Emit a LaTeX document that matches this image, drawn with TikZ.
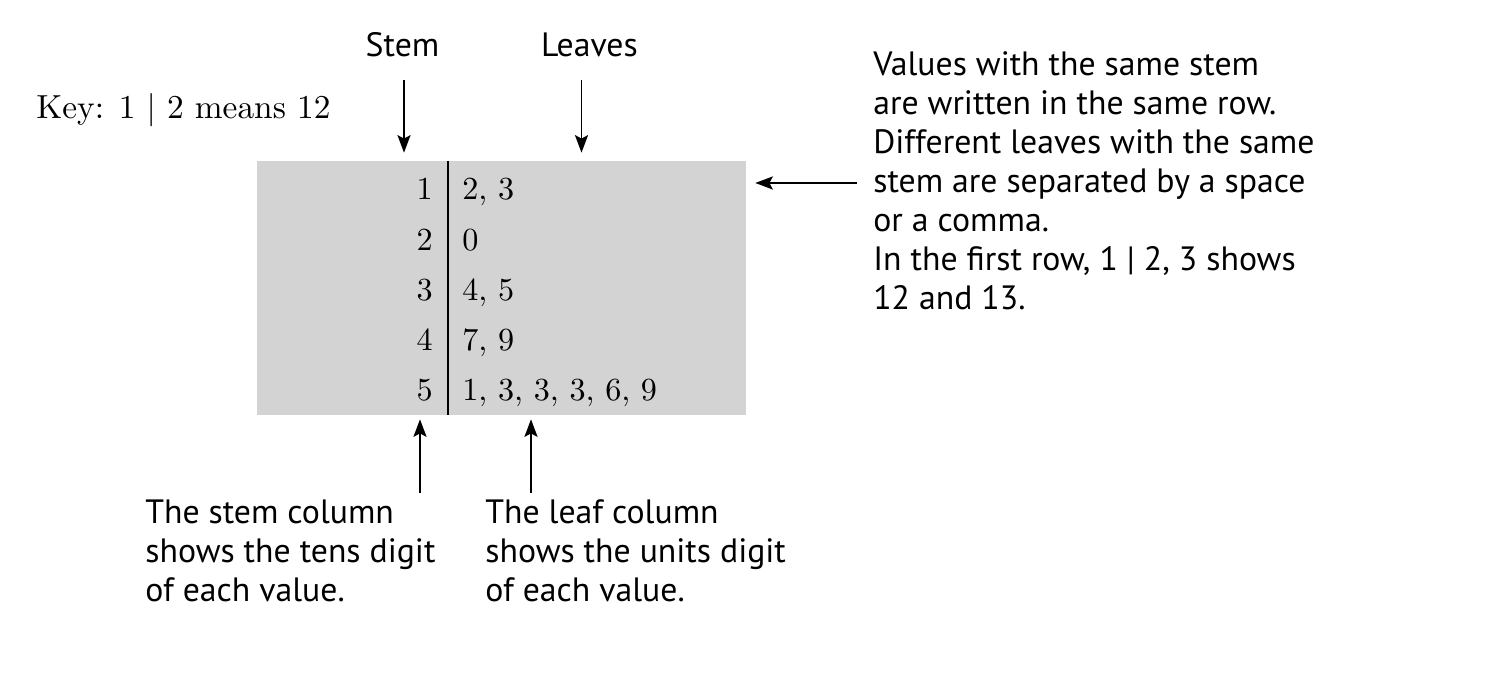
\documentclass[tikz,border=0pt]{standalone}
\usepackage{fontspec}
\newfontfamily\notefont{PT Sans}
\newfontfamily\plotfont{lmroman10-regular.otf}
\usetikzlibrary{arrows.meta}
\usetikzlibrary{positioning}
\definecolor{plotgrey}{RGB}{211,211,211}

\tikzset{
  arr/.style={line width=0.75pt, -{Stealth[length=10pt,width=7.5pt,inset=2pt]}},
  note/.style={inner sep=0pt, align=left, font=\notefont\fontsize{19.2}{22.2}\selectfont},
  digit/.style={inner sep=0pt, font=\plotfont\fontsize{18.3}{21}\selectfont},
}

\begin{document}
\begin{tikzpicture}
    \useasboundingbox (0,0) rectangle (29.98,13.98);

    % Stem-and-leaf plot
    \node[fill=plotgrey, inner sep=0pt, minimum width=9.78cm, minimum height=5.08cm] (plot) at (10.03,8.22) {};
    \draw[line width=0.8pt] (8.96,0 |- plot.north) -- (8.96,0 |- plot.south);

    % Rows
    \foreach \s/\l [count=\i] in {1/{2, 3}, 2/0, 3/{4, 5}, 4/{7, 9}, 5/{1, 3, 3, 3, 6, 9}} {
        \node[digit, anchor=base east] (stem\i) at (8.66, 9.98-1.005*\i+1.005) {\s};
        \node[digit, anchor=base west] (leaf\i) at (9.24, 9.98-1.005*\i+1.005) {\l};
    }

    % Key
    \node[digit, anchor=base west, font=\plotfont\fontsize{19}{22}\selectfont] (key) at (0.72,11.6) {Key: 1 | 2 means 12};

    % Column labels
    \node[note, anchor=base] (stemlbl) at (8.05,12.84) {Stem};
    \node[note, anchor=base] (leaflbl) at (11.79,12.84) {Leaves};
    \coordinate (stemtop) at (8.08,12.38);
    \coordinate (leaftop) at (11.63,12.38);
    \draw[arr, shorten >=0.16cm] (stemtop) -- (stemtop |- plot.north);
    \draw[arr, shorten >=0.16cm] (leaftop) -- (leaftop |- plot.north);

    % Note on rows (base = last line)
    \node[note, anchor=base west] (rownote) at (17.46,7.78) {Values with the same stem\\are written in the same row.\\Different leaves with the same\\stem are separated by a space\\or a comma.\\In the first row, 1 | 2, 3 shows\\12 and 13.};
    \coordinate (rowtail) at (17.14,10.32);
    \draw[arr, shorten >=0.18cm] (rowtail) -- (rowtail -| plot.east);

    % Notes on columns
    \node[note, anchor=base west] (stemnote) at (2.9,1.94) {The stem column\\shows the tens digit\\of each value.};
    \node[note, anchor=base west] (leafnote) at (9.7,1.94) {The leaf column\\shows the units digit\\of each value.};
    \coordinate (stemfoot) at (8.40,4.12);
    \coordinate (leaffoot) at (10.62,4.12);
    \draw[arr, shorten >=0.08cm] (stemfoot) -- (stemfoot |- plot.south);
    \draw[arr, shorten >=0.08cm] (leaffoot) -- (leaffoot |- plot.south);

\end{tikzpicture}
\end{document}
